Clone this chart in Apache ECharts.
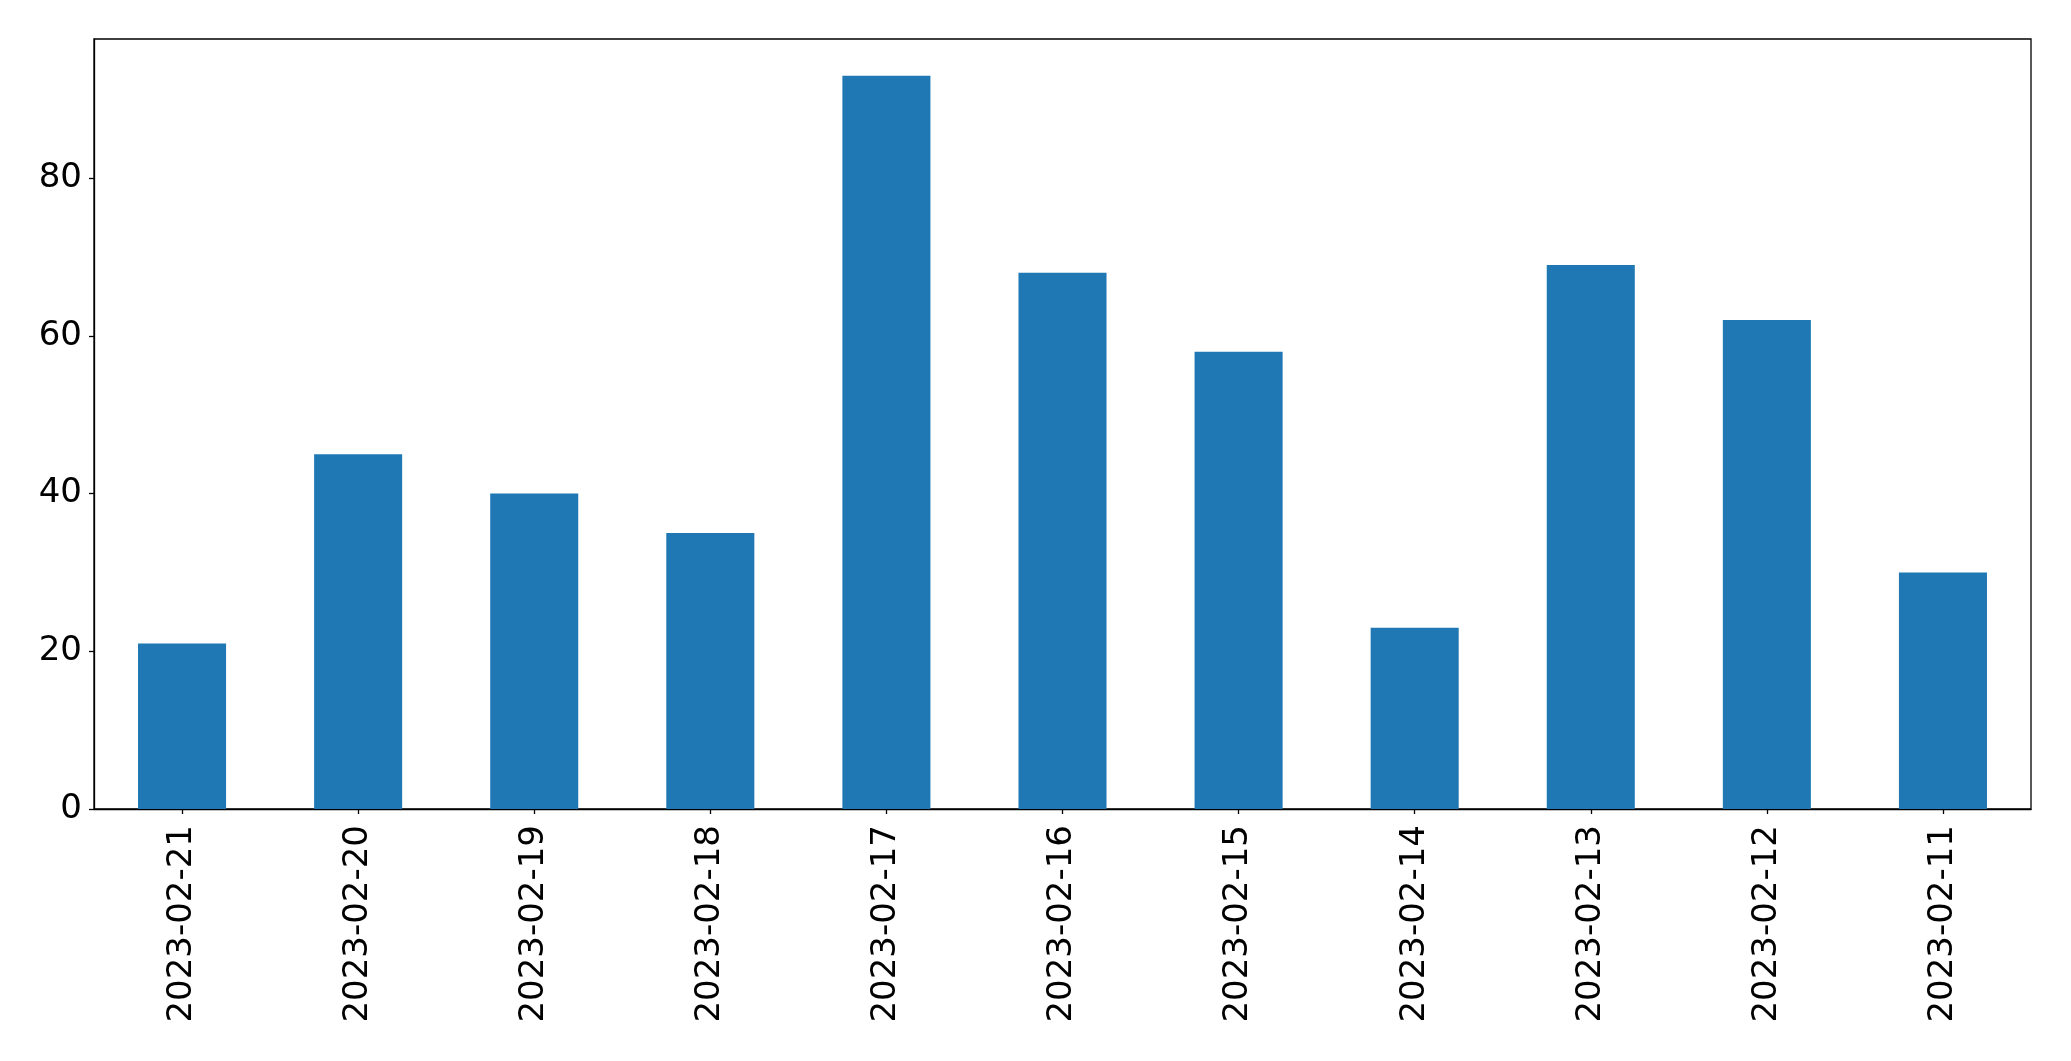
<!DOCTYPE html>
<html>
<head>
<meta charset="utf-8">
<script src="https://cdn.jsdelivr.net/npm/echarts@6/dist/echarts.min.js"></script>
<style>
html,body{margin:0;padding:0;background:#fff;}
#chart{width:2071px;height:1061px;}
</style>
</head>
<body>
<div id="chart"></div>
<script>
const categories = ["2023-02-21","2023-02-20","2023-02-19","2023-02-18","2023-02-17","2023-02-16","2023-02-15","2023-02-14","2023-02-13","2023-02-12","2023-02-11"];
const values = [21, 45, 40, 35, 93, 68, 58, 23, 69, 62, 30];
const yTicks = [0, 20, 40, 60, 80];
const yMax = 97.65;

const chart = echarts.init(document.getElementById('chart'), null, {renderer: 'canvas'});
const font = 'DejaVu Sans';
chart.setOption({
  animation: false,
  backgroundColor: '#ffffff',
  grid: {
    left: 94, top: 39, width: 1937, height: 770,
    show: true, borderColor: '#000000', borderWidth: 1.3, backgroundColor: 'transparent'
  },
  xAxis: {
    type: 'category',
    data: categories,
    axisLine: {show: true, lineStyle: {color: '#000000', width: 1.3}},
    axisTick: {show: true, alignWithLabel: true, length: 5, lineStyle: {color: '#000000', width: 1.3}},
    axisLabel: {rotate: 90, fontSize: 34, fontFamily: font, color: '#000000', margin: 16},
    splitLine: {show: false}
  },
  yAxis: {
    type: 'value',
    min: 0,
    max: yMax,
    interval: 20,
    axisLine: {show: true, lineStyle: {color: '#000000', width: 1.3}},
    axisTick: {show: true, length: 5, lineStyle: {color: '#000000', width: 1.3}, customValues: yTicks},
    axisLabel: {fontSize: 34, fontFamily: font, color: '#000000', margin: 12, customValues: yTicks},
    splitLine: {show: false}
  },
  series: [{
    type: 'bar',
    data: values,
    barWidth: '50%',
    itemStyle: {color: '#1f77b4'}
  }]
});
</script>
</body>
</html>
